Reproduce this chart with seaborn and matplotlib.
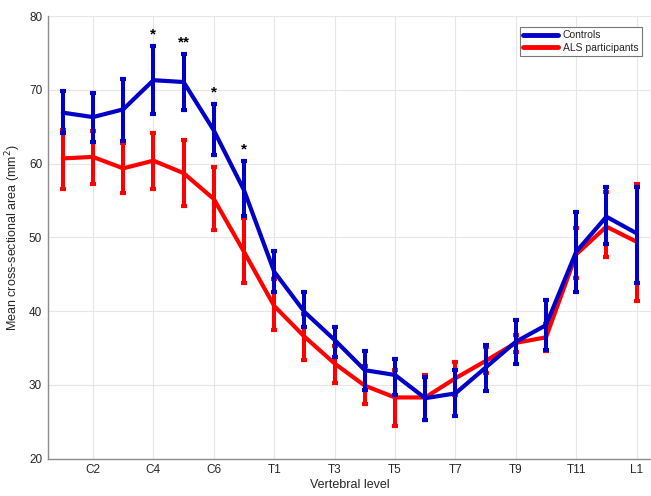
import numpy as np
import pandas as pd
import matplotlib
matplotlib.use("Agg")
import matplotlib.pyplot as plt
import seaborn as sns
from matplotlib.lines import Line2D

# Vertebral levels C1..L1
levels = ["C1", "C2", "C3", "C4", "C5", "C6", "C7",
          "T1", "T2", "T3", "T4", "T5", "T6", "T7", "T8", "T9", "T10", "T11", "T12",
          "L1"]

controls_mean = [66.9, 66.3, 67.35, 71.3, 71.05, 64.5, 56.4, 45.35, 39.9, 36.1,
                 32.0, 31.35, 28.2, 28.85, 32.35, 35.85, 38.1, 48.05, 52.8, 50.55]
controls_hi = [69.9, 69.6, 71.4, 76.0, 74.9, 68.1, 60.35, 48.15, 42.55, 37.8,
               34.6, 33.5, 31.1, 32.0, 35.4, 38.8, 41.5, 53.5, 56.8, 56.8]
controls_lo = [64.2, 62.9, 63.1, 66.7, 67.2, 61.2, 52.9, 42.55, 37.8, 33.8,
               29.3, 28.7, 25.2, 25.8, 29.2, 32.85, 34.8, 42.6, 49.1, 43.8]

als_mean = [60.7, 60.9, 59.35, 60.4, 58.7, 55.2, 48.05, 40.7, 36.55, 32.9,
            29.9, 28.3, 28.3, 30.9, 33.25, 35.7, 36.45, 47.7, 51.45, 49.4]
als_hi = [64.5, 64.4, 62.8, 64.2, 63.2, 59.6, 52.6, 44.3, 39.6, 35.3,
          32.5, 32.0, 31.4, 33.15, 35.2, 36.8, 38.3, 51.2, 56.1, 57.2]
als_lo = [56.6, 57.2, 56.0, 56.5, 54.25, 51.0, 43.85, 37.45, 33.4, 30.2,
          27.4, 24.4, 25.3, 28.6, 31.6, 34.4, 34.6, 44.45, 47.3, 41.4]

# significance markers above the controls error bars
significance = ["", "", "", "*", "**", "*", "*", "", "", "",
                "", "", "", "", "", "", "", "", "", ""]

tick_labels = ["C2", "C4", "C6", "T1", "T3", "T5", "T7", "T9", "T11", "L1"]

BLUE = "#0000c8"
RED = "#ff0000"

sns.set_theme(style="whitegrid")
plt.rcParams["font.family"] = ["Liberation Sans", "DejaVu Sans"]

x = np.arange(1, len(levels) + 1)
df = pd.DataFrame({
    "pos": np.concatenate([x, x]),
    "area": controls_mean + als_mean,
    "group": ["Controls"] * len(x) + ["ALS participants"] * len(x),
})

fig = plt.figure(figsize=(6.51, 4.96), dpi=100)
ax = fig.add_axes([47.7 / 651, 1 - 458.7 / 496, 604 / 651, (458.7 - 16) / 496])

# red first so the controls sit on top
sns.lineplot(data=df, x="pos", y="area", hue="group",
             hue_order=["ALS participants", "Controls"],
             palette={"Controls": BLUE, "ALS participants": RED},
             linewidth=3.0, sort=False, ax=ax, legend=False)
ax.lines[0].set_zorder(2)
ax.lines[1].set_zorder(4)

for mean, lo, hi, col, z in [(als_mean, als_lo, als_hi, RED, 3),
                             (controls_mean, controls_lo, controls_hi, BLUE, 5)]:
    mean = np.array(mean)
    yerr = np.vstack([mean - np.array(lo), np.array(hi) - mean])
    ax.errorbar(x, mean, yerr=yerr, fmt="none", ecolor=col, elinewidth=2.9,
                capsize=2.3, capthick=3.0, zorder=z)

for xi, hi, s in zip(x, controls_hi, significance):
    if s:
        ax.annotate(s, (xi, hi), xytext=(0, 3), textcoords="offset points",
                    ha="center", va="bottom", fontsize=11, fontweight="bold",
                    color="black")

ax.set_xlim(0.5, 20.5)
ax.set_ylim(20, 80)
ax.set_xticks(x[1::2])
ax.set_xticklabels(tick_labels)
ax.set_yticks(np.arange(20, 81, 10))
ax.tick_params(axis="both", direction="in", length=3, width=0.8, colors="#888888",
               labelcolor="#262626", labelsize=8.5, pad=4)
ax.grid(True, color="#e6e6e6", linewidth=0.8)
for side in ["top", "right"]:
    ax.spines[side].set_visible(False)
for side in ["left", "bottom"]:
    ax.spines[side].set_color("#8c8c8c")
    ax.spines[side].set_linewidth(1.0)

ax.set_xlabel("Vertebral level", fontsize=9, color="#262626", labelpad=2)
ax.set_ylabel("Mean cross-sectional area (mm$^2$)", fontsize=9, color="#262626", labelpad=4)

handles = [Line2D([], [], color=BLUE, linewidth=3.5),
           Line2D([], [], color=RED, linewidth=3.5)]
leg = ax.legend(handles, ["Controls", "ALS participants"], loc="upper right",
                bbox_to_anchor=(641.7 / 651, 1 - 27.3 / 496), bbox_transform=fig.transFigure,
                borderaxespad=0, fontsize=7.5, handlelength=3.3, handletextpad=0.5,
                borderpad=0.3, labelspacing=0.2, fancybox=False, framealpha=1)
leg.get_frame().set_edgecolor("#777777")
leg.get_frame().set_linewidth(0.8)

fig.savefig("out.png", dpi=100)
